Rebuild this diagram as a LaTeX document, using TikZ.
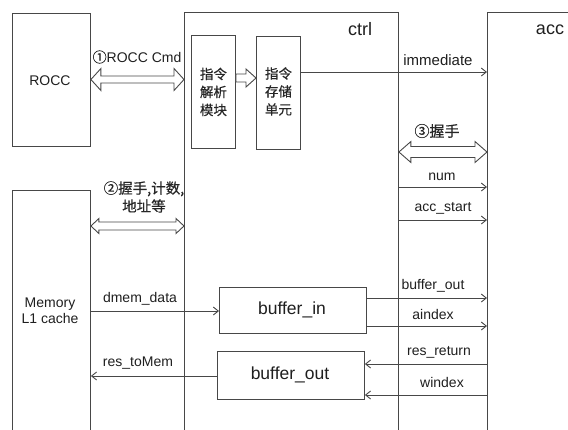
\documentclass[tikz,border=0pt]{standalone}
\usepackage{fontspec}
\setmainfont{Liberation Sans}
\newfontfamily\cjk[FakeBold=0.4]{Noto Sans CJK SC}
\usetikzlibrary{arrows.meta,calc}

% hollow two-headed arrow between two points on one level:
% #1 left end, #2 right end, #3 half shaft, #4 half head, #5 head length
\newcommand\hollowboth[5]{%
  \draw[fatline] let \p1=#1, \p2=#2 in
    (\x1,\y1) -- (\x1+#5,\y1+#4) -- (\x1+#5,\y1+#3) -- (\x2-#5,\y2+#3)
    -- (\x2-#5,\y2+#4) -- (\x2,\y2) -- (\x2-#5,\y2-#4) -- (\x2-#5,\y2-#3)
    -- (\x1+#5,\y1-#3) -- (\x1+#5,\y1-#4) -- cycle;}
% hollow one-headed arrow, pointing from #1 to #2
\newcommand\hollowone[5]{%
  \draw[fatline] let \p1=#1, \p2=#2 in
    (\x1,\y1+#3) -- (\x2-#5,\y2+#3) -- (\x2-#5,\y2+#4) -- (\x2,\y2)
    -- (\x2-#5,\y2-#4) -- (\x2-#5,\y2-#3) -- (\x1,\y1-#3) -- cycle;}

\begin{document}
\begin{tikzpicture}[x=1pt,y=-1pt,
  frame/.style={draw=black!72, line width=0.9pt, inner sep=0, anchor=north west},
  fatline/.style={draw=black!72, line width=0.9pt, fill=white},
  lbl/.style={text=black!88, font=\fontsize{14}{16}\selectfont, inner sep=0},
  big/.style={text=black!88, font=\fontsize{18}{20}\selectfont, inner sep=0},
  zh/.style={text=black!85, font=\cjk\fontsize{13.5}{18}\selectfont, inner sep=0, align=center},
  sig/.style={draw=black!72, line width=0.9pt, -{Straight Barb[length=5pt,width=8pt]}},
]
\useasboundingbox[fill=white] (0,0) rectangle (568,429);

% outer blocks
\node[frame, minimum width=78, minimum height=133] (rocc) at (12,13) {};
\node[frame, minimum width=78, minimum height=260] (mem) at (12,190) {};
\node[frame, minimum width=214, minimum height=440] (ctrl) at (184,12) {};
\node[frame, minimum width=110, minimum height=440] (acc) at (487,12) {};

% blocks inside ctrl
\node[frame, minimum width=44, minimum height=113] (parse) at (191,35) {};
\node[frame, minimum width=44, minimum height=113] (unit) at (256,36) {};
\node[frame, minimum width=147, minimum height=46] (bin) at (219,287) {};
\node[frame, minimum width=147, minimum height=48] (bout) at (217,351) {};

% block texts
\node[lbl] (roccT) at (50,81) {ROCC};
\node[lbl, align=center, font=\fontsize{14}{16}\selectfont] (memT) at (50,311) {Memory\\L1 cache};
\node[big] (ctrlT) at (360,29) {ctrl};
\node[big] (accT) at (550,30) {acc};
\node[zh] (parseT) at (parse.center) {指令\\解析\\模块};
\node[zh] (unitT) at ([yshift=1.5]unit.center) {指令\\存储\\单元};
\node[lbl, font=\fontsize{17.5}{20}\selectfont] (binT) at (292,310) {buffer\_in};
\node[lbl, font=\fontsize{17.5}{20}\selectfont] (boutT) at (290,375) {buffer\_out};

% wide handshake arrows
\hollowboth{(rocc.east |- 0,79.5)}{(ctrl.west |- 0,79.5)}{3.5pt}{11pt}{10pt}
\hollowboth{(mem.east |- 0,226)}{(ctrl.west |- 0,226)}{4pt}{7.5pt}{8pt}
\hollowboth{(ctrl.east |- 0,152)}{(acc.west |- 0,152)}{5.5pt}{10.5pt}{12pt}
\hollowone{(parse.east |- 0,78)}{(unit.west |- 0,78)}{4pt}{9pt}{10pt}

\node[lbl] (cmdT) at (137,57) {{\cjk\fontsize{14}{16}\selectfont ①}ROCC Cmd};
\node[zh, font=\cjk\fontsize{14.5}{18}\selectfont] (hsT) at (144,197) {②握手,计数,\\地址等};
\node[zh, font=\cjk\fontsize{15}{18}\selectfont] (hs3T) at (437,131) {③握手};

% signals between ctrl and acc
\draw[sig] (unit.east |- 0,72) -- (acc.west |- 0,72);
\draw[sig] (ctrl.east |- 0,187) -- (acc.west |- 0,187);
\draw[sig] (ctrl.east |- 0,220) -- (acc.west |- 0,220);
\draw[sig] (bin.east |- 0,298) -- (acc.west |- 0,298);
\draw[sig] (bin.east |- 0,326) -- (acc.west |- 0,326);
\draw[sig] (acc.west |- 0,364) -- (bout.east |- 0,364);
\draw[sig] (acc.west |- 0,395) -- (bout.east |- 0,395);

% signals between memory and ctrl
\draw[sig] (mem.east |- 0,311) -- (bin.west |- 0,311);
\draw[sig] (bout.west |- 0,376) -- (mem.east |- 0,376);

% signal names
\node[lbl, font=\fontsize{15}{17}\selectfont] (immT) at (438,60) {immediate};
\node[lbl] (numT) at (442,177) {num};
\node[lbl] (startT) at (443,208) {acc\_start};
\node[lbl] (boT) at (433,286) {buffer\_out};
\node[lbl] (aiT) at (433,314) {aindex};
\node[lbl] (rrT) at (439,352) {res\_return};
\node[lbl] (wiT) at (442,382) {windex};
\node[lbl] (dmT) at (140,299) {dmem\_data};
\node[lbl] (rmT) at (138,363) {res\_toMem};
\end{tikzpicture}
\end{document}
